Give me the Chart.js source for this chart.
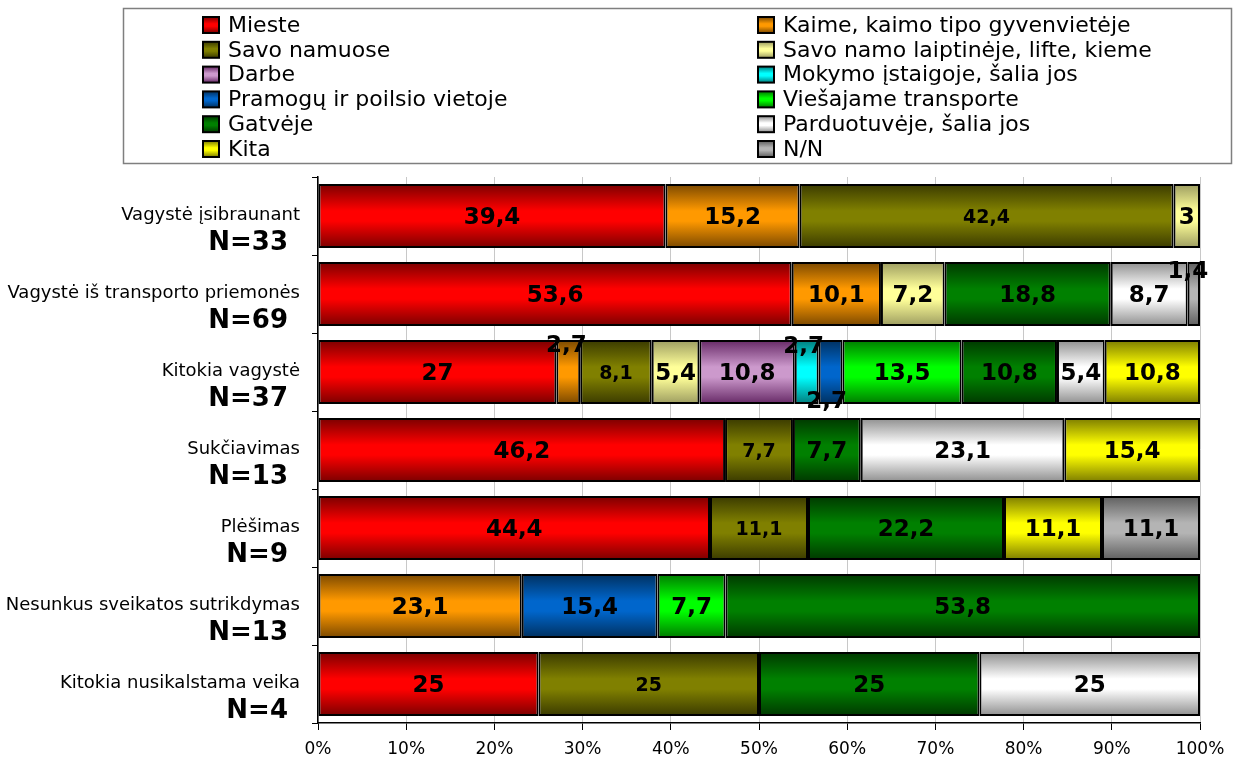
<!DOCTYPE html>
<html>
<head>
<meta charset="utf-8">
<script src="https://cdn.jsdelivr.net/npm/chart.js@4/dist/chart.umd.min.js"></script>
<style>
  html, body { margin: 0; padding: 0; background: #ffffff; }
  #wrap { width: 1236px; height: 765px; }
</style>
</head>
<body>
<div id="wrap"><canvas id="c" width="1236" height="765"></canvas></div>
<script>
// ---------- DATA ----------
const categories = ['Vagystė įsibraunant', 'Vagystė iš transporto priemonės', 'Kitokia vagystė', 'Sukčiavimas', 'Plėšimas', 'Nesunkus sveikatos sutrikdymas', 'Kitokia nusikalstama veika'];
const sampleSizes = ['N=33', 'N=69', 'N=37', 'N=13', 'N=9', 'N=13', 'N=4'];
const seriesNames = ['Mieste', 'Kaime, kaimo tipo gyvenvietėje', 'Savo namuose', 'Savo namo laiptinėje, lifte, kieme', 'Darbe', 'Mokymo įstaigoje, šalia jos', 'Pramogų ir poilsio vietoje', 'Viešajame transporte', 'Gatvėje', 'Parduotuvėje, šalia jos', 'Kita', 'N/N'];
const mieste       = [39.4, 53.6, 27,   46.2, 44.4, null, 25];
const kaime        = [15.2, 10.1, 2.7,  null, null, 23.1, null];
const savoNamuose  = [42.4, null, 8.1,  7.7,  11.1, null, 25];
const laiptineje   = [3,    7.2,  5.4,  null, null, null, null];
const darbe        = [null, null, 10.8, null, null, null, null];
const mokymo       = [null, null, 2.7,  null, null, null, null];
const pramogu      = [null, null, 2.7,  null, null, 15.4, null];
const transporte   = [null, null, 13.5, null, null, 7.7,  null];
const gatveje      = [null, 18.8, 10.8, 7.7,  22.2, 53.8, 25];
const parduotuveje = [null, 8.7,  5.4,  23.1, null, null, 25];
const kita         = [null, null, 10.8, 15.4, 11.1, null, null];
const nn           = [null, 1.4,  null, null, 11.1, null, null];
const xTickLabels  = ['0%', '10%', '20%', '30%', '40%', '50%', '60%', '70%', '80%', '90%', '100%'];

const seriesValues = [mieste, kaime, savoNamuose, laiptineje, darbe, mokymo, pramogu, transporte, gatveje, parduotuveje, kita, nn];

// ---------- STYLE ----------
const FONT = "'DejaVu Sans', Verdana, sans-serif";
const colors = [
  ['#FF0000', '#7A0000'],
  ['#FF9900', '#7A4800'],
  ['#808000', '#3A3A00'],
  ['#FFFF99', '#9C9C60'],
  ['#CC99CC', '#652865'],
  ['#00FFFF', '#007C7C'],
  ['#0066CC', '#00305F'],
  ['#00FF00', '#007A00'],
  ['#008000', '#003800'],
  ['#FFFFFF', '#8E8E8E'],
  ['#FFFF00', '#7C7C00'],
  ['#B4B4B4', '#5E5E5E']
];
const BAR_PCT = 0.82;

// row totals for 100% stacking
const rowTotals = categories.map((_, i) => seriesValues.reduce((s, arr) => s + (arr[i] || 0), 0));

function makeGrad(ctx, y0, y1, c) {
  const g = ctx.createLinearGradient(0, y0, 0, y1);
  g.addColorStop(0, c[1]);
  g.addColorStop(0.42, c[0]);
  g.addColorStop(0.58, c[0]);
  g.addColorStop(1, c[1]);
  return g;
}

const datasets = seriesNames.map((name, si) => ({
  label: name,
  data: seriesValues[si].map((v, i) => v == null ? null : v / rowTotals[i] * 100),
  rawValues: seriesValues[si],
  borderColor: '#000000',
  borderWidth: 2,
  borderSkipped: false,
  barPercentage: BAR_PCT,
  categoryPercentage: 1.0,
  backgroundColor: (ctx) => {
    const chart = ctx.chart;
    const c = colors[si];
    if (!chart.chartArea || ctx.type !== 'data') return c[0];
    const ys = chart.scales.y;
    const yc = ys.getPixelForValue(ctx.dataIndex);
    const band = (chart.chartArea.bottom - chart.chartArea.top) / categories.length;
    const half = band * BAR_PCT / 2;
    return makeGrad(chart.ctx, yc - half, yc + half, c);
  }
}));

// manual label displacements (as in the original) : key "series-row"
const labelShift = { '1-2': [-2, -28], '5-2': [-3, -27], '6-2': [-4, 28], '11-1': [-6, -24] };

const labelPlugin = {
  id: 'segLabels',
  afterDatasetsDraw(chart) {
    const ctx = chart.ctx;
    ctx.save();
    ctx.textAlign = 'center';
    ctx.textBaseline = 'middle';
    ctx.fillStyle = '#000000';
    chart.data.datasets.forEach((ds, si) => {
      const meta = chart.getDatasetMeta(si);
      meta.data.forEach((el, i) => {
        const v = ds.rawValues[i];
        if (v == null) return;
        const p = el.getProps(['x', 'y', 'base'], true);
        let x = (p.x + p.base) / 2, y = p.y + 2;
        const sh = labelShift[si + '-' + i];
        if (sh) { x += sh[0]; y += sh[1]; }
        ctx.font = (si === 2 ? 'bold 19px ' : 'bold 23px ') + FONT;
        ctx.fillText(String(v).replace('.', ','), x, y);
      });
    });
    ctx.restore();
  }
};

const yLabelPlugin = {
  id: 'yLabels',
  afterDraw(chart) {
    const ctx = chart.ctx;
    const ys = chart.scales.y;
    ctx.save();
    ctx.fillStyle = '#000000';
    ctx.textAlign = 'right';
    ctx.textBaseline = 'middle';
    categories.forEach((cat, i) => {
      const yc = ys.getPixelForValue(i);
      ctx.font = '18px ' + FONT;
      ctx.fillText(cat, 300, yc - 1);
      ctx.font = 'bold 26px ' + FONT;
      ctx.fillText(sampleSizes[i], 288, yc + 27);
    });
    ctx.restore();
  }
};

const legendPlugin = {
  id: 'boxLegend',
  afterDraw(chart) {
    const ctx = chart.ctx;
    ctx.save();
    ctx.strokeStyle = '#7F7F7F';
    ctx.lineWidth = 1.5;
    ctx.strokeRect(123.5, 8.5, 1108, 155);
    ctx.font = '22px ' + FONT;
    ctx.textAlign = 'left';
    ctx.textBaseline = 'middle';
    seriesNames.forEach((name, si) => {
      const col = si % 2, row = Math.floor(si / 2);
      const sx = col === 0 ? 203 : 758;
      const yc = 25 + row * 24.8;
      ctx.fillStyle = makeGrad(ctx, yc - 8, yc + 8, colors[si]);
      ctx.fillRect(sx, yc - 8, 16, 16);
      ctx.strokeStyle = '#000000';
      ctx.lineWidth = 2;
      ctx.strokeRect(sx, yc - 8, 16, 16);
      ctx.fillStyle = '#000000';
      ctx.fillText(name, sx + 25, yc + 1);
    });
    ctx.restore();
  }
};

new Chart(document.getElementById('c'), {
  type: 'bar',
  data: { labels: categories, datasets },
  options: {
    indexAxis: 'y',
    responsive: false,
    animation: false,
    devicePixelRatio: 1,
    layout: { padding: { top: 177, right: 36, left: 0, bottom: 0 } },
    plugins: { legend: { display: false }, tooltip: { enabled: false }, title: { display: false } },
    scales: {
      x: {
        stacked: true,
        min: 0, max: 100,
        ticks: {
          stepSize: 10,
          color: '#000000',
          font: { family: FONT, size: 17 },
          padding: 9,
          callback: (v) => xTickLabels[Math.round(v / 10)]
        },
        grid: { color: '#C8C8C8', lineWidth: 1, tickColor: '#000000', tickLength: 7 },
        border: { display: true, color: '#000000', width: 1.5 },
        afterFit(scale) { scale.height = 42; }
      },
      y: {
        stacked: true,
        ticks: { display: false },
        grid: { drawOnChartArea: false, drawTicks: true, tickLength: 6, tickColor: '#000000', offset: true },
        border: { display: true, color: '#000000', width: 1.5 },
        afterFit(scale) { scale.width = 318; }
      }
    }
  },
  plugins: [labelPlugin, yLabelPlugin, legendPlugin]
});
</script>
</body>
</html>
